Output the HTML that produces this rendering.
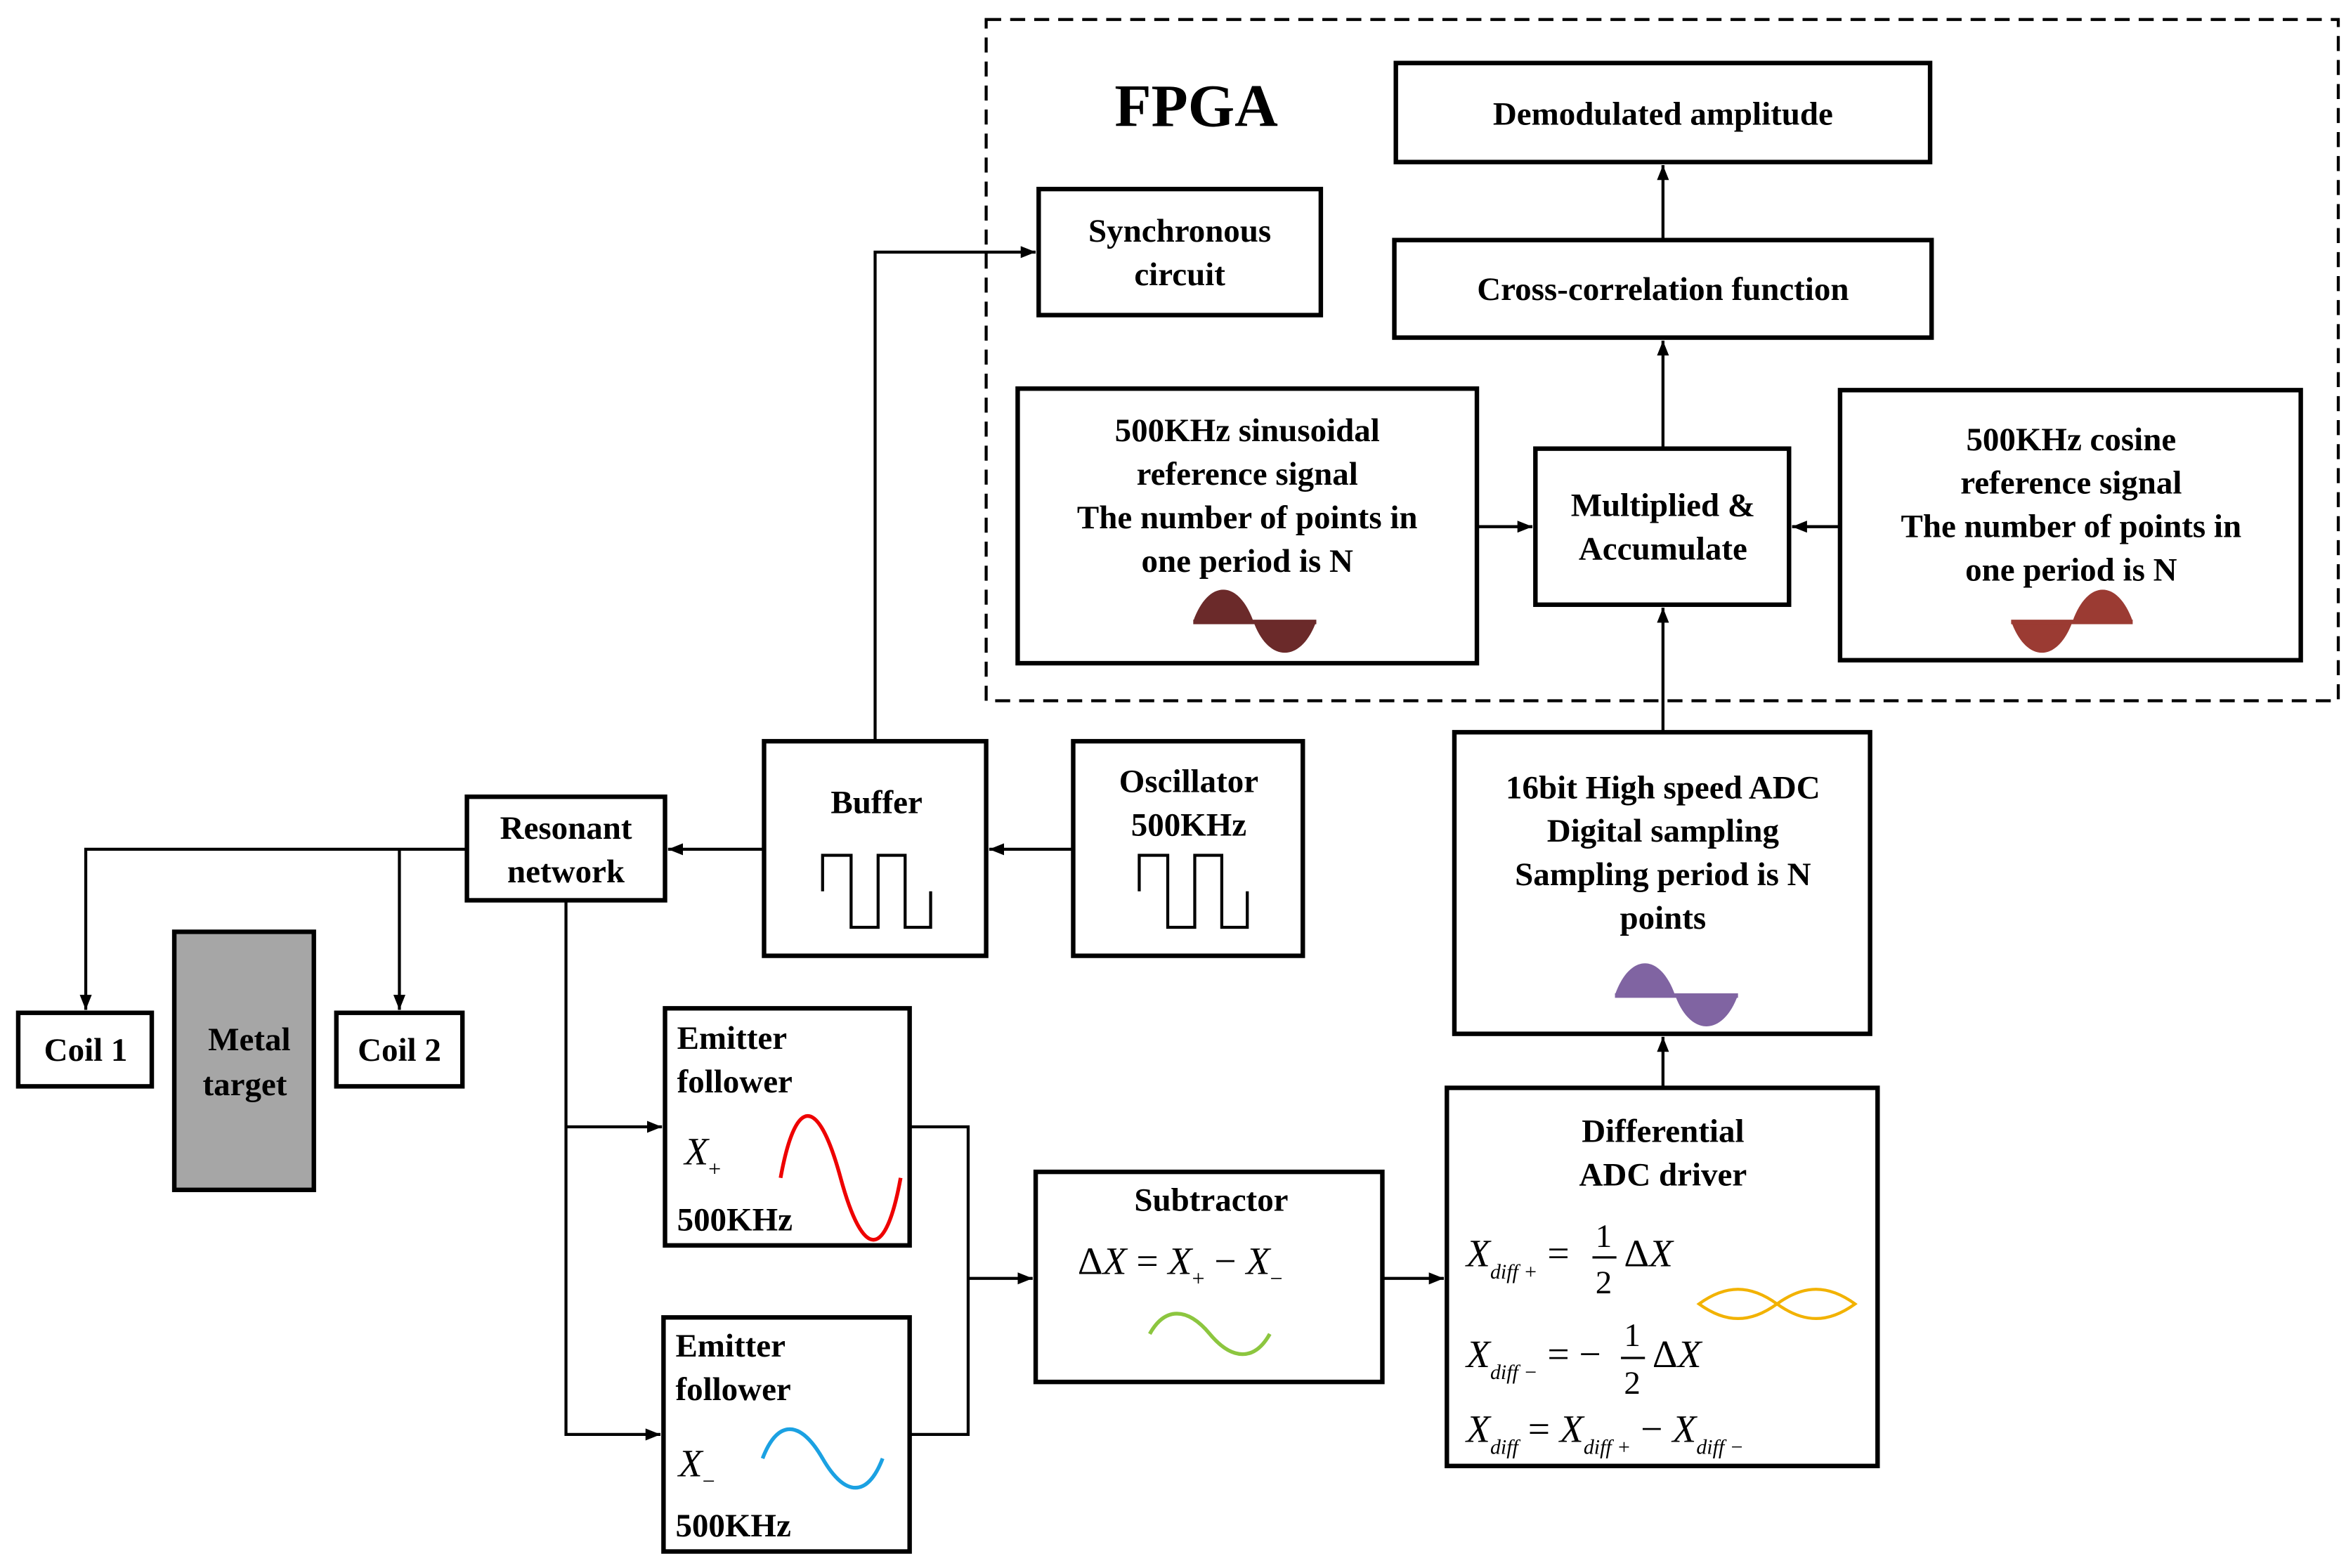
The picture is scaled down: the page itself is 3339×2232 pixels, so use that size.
<!DOCTYPE html>
<html><head><meta charset="utf-8"><style>html,body{margin:0;padding:0;background:#fff}svg{display:block}</style></head>
<body>
<svg width="3339" height="2232" viewBox="0 0 1563 1045" xmlns="http://www.w3.org/2000/svg" font-family="'Liberation Serif',serif" font-weight="bold" font-size="22">
<defs><marker id="a" markerWidth="10" markerHeight="8" refX="10" refY="4" orient="auto" markerUnits="userSpaceOnUse"><path d="M0,0 L10,4 L0,8 z" fill="#000"/></marker></defs>
<rect x="657" y="13" width="901" height="454" fill="none" stroke="#000" stroke-width="2" stroke-dasharray="10,6"/>
<text x="797" y="84" font-size="40" text-anchor="middle">FPGA</text>
<g fill="#fff" stroke="#000" stroke-width="3">
<rect x="930" y="42" width="356" height="66"/>
<rect x="929" y="160" width="358" height="65"/>
<rect x="692" y="126" width="188" height="84"/>
<rect x="678" y="259" width="306" height="183"/>
<rect x="1023" y="299" width="169" height="104"/>
<rect x="1226" y="260" width="307" height="180"/>
<rect x="969" y="488" width="277" height="201"/>
<rect x="509" y="494" width="148" height="143"/>
<rect x="715" y="494" width="153" height="143"/>
<rect x="311" y="531" width="132" height="69"/>
<rect x="12" y="675" width="89" height="49"/>
<rect x="116" y="621" width="93" height="172" fill="#a6a6a6"/>
<rect x="224" y="675" width="84" height="49"/>
<rect x="443" y="672" width="163" height="158"/>
<rect x="442" y="878" width="164" height="156"/>
<rect x="690" y="781" width="231" height="140"/>
<rect x="964" y="725" width="287" height="252"/>
</g>
<g fill="none" stroke="#000" stroke-width="2">
<path d="M583,494 V168 H690" marker-end="url(#a)"/>
<path d="M715,566 H659" marker-end="url(#a)"/>
<path d="M509,566 H445" marker-end="url(#a)"/>
<path d="M311,566 H57 V673" marker-end="url(#a)"/>
<path d="M266,566 V673" marker-end="url(#a)"/>
<path d="M377,600 V956 H440" marker-end="url(#a)"/>
<path d="M377,751 H441" marker-end="url(#a)"/>
<path d="M606,751 H645 V956 H606"/>
<path d="M645,852 H688" marker-end="url(#a)"/>
<path d="M921,852 H962" marker-end="url(#a)"/>
<path d="M1108,725 V691" marker-end="url(#a)"/>
<path d="M1108,488 V405" marker-end="url(#a)"/>
<path d="M1108,299 V227" marker-end="url(#a)"/>
<path d="M1108,160 V110" marker-end="url(#a)"/>
<path d="M984,351 H1021" marker-end="url(#a)"/>
<path d="M1226,351 H1194" marker-end="url(#a)"/>
<path d="M548,594 V570 H567 V618 H585 V570 H603 V618 H620 V594"/>
<path d="M759,594 V570 H778 V618 H796 V570 H814 V618 H831 V594"/>
<path d="M520,785 C530,730 545,730 560,785 S590,840 600,785" stroke="#e00" stroke-width="2.5"/>
<path d="M508,972 C518,946 533,946 548,972 S578,998 588,972" stroke="#1ba1e2" stroke-width="2.5"/>
<path d="M766,889 C776,871 791,871 806,889 S836,907 846,889" stroke="#8cc63f" stroke-width="2.5"/>
<path d="M1132,869 C1150,856 1166,856 1184,869 C1202,856 1218,856 1236,869 C1218,882 1202,882 1184,869 C1166,882 1150,882 1132,869 z" stroke="#f2b200" stroke-width="2"/>
</g>
<path d="M795,414 C805,386 825,386 835,414 C845,442 867,442 877,414 z" fill="#6b2a2a"/>
<rect x="795" y="413" width="82" height="3" fill="#6b2a2a"/>
<path d="M1340,414 C1350,442 1371,442 1381,414 C1391,386 1411,386 1421,414 z" fill="#9b3b33"/>
<rect x="1340" y="413" width="81" height="3" fill="#9b3b33"/>
<path d="M1076,663 C1086,635 1106,635 1116,663 C1126,691 1148,691 1158,663 z" fill="#8064a2"/>
<rect x="1076" y="662" width="82" height="3" fill="#8064a2"/>
<g text-anchor="middle">
<text x="1108" y="83">Demodulated amplitude</text>
<text x="1108" y="200">Cross-correlation function</text>
<text x="786" y="161">Synchronous</text><text x="786" y="190">circuit</text>
<text x="831" y="294">500KHz sinusoidal</text><text x="831" y="323">reference signal</text><text x="831" y="352">The number of points in</text><text x="831" y="381">one period is N</text>
<text x="1108" y="344">Multiplied &amp;</text><text x="1108" y="373">Accumulate</text>
<text x="1380" y="300">500KHz cosine</text><text x="1380" y="329">reference signal</text><text x="1380" y="358">The number of points in</text><text x="1380" y="387">one period is N</text>
<text x="1108" y="532">16bit High speed ADC</text><text x="1108" y="561">Digital sampling</text><text x="1108" y="590">Sampling period is N</text><text x="1108" y="619">points</text>
<text x="584" y="542">Buffer</text>
<text x="792" y="528">Oscillator</text><text x="792" y="557">500KHz</text>
<text x="377" y="559">Resonant</text><text x="377" y="588">network</text>
<text x="57" y="707">Coil 1</text>
<text x="166" y="700">Metal</text><text x="163" y="730">target</text>
<text x="266" y="707">Coil 2</text>
<text x="807" y="807">Subtractor</text>
<text x="1108" y="761">Differential</text><text x="1108" y="790">ADC driver</text>
</g>
<text x="451" y="699">Emitter</text><text x="451" y="728">follower</text><text x="451" y="820">500KHz</text>
<text x="450" y="904">Emitter</text><text x="450" y="933">follower</text><text x="450" y="1024">500KHz</text>
<g font-weight="normal" font-style="italic" font-size="26">
<text x="456" y="776">X<tspan font-size="15" font-style="normal" dy="8">+</tspan></text>
<text x="452" y="984">X<tspan font-size="15" font-style="normal" dy="8">−</tspan></text>
<text x="718" y="849"><tspan font-style="normal">Δ</tspan>X <tspan font-style="normal">=</tspan> X<tspan font-size="15" font-style="normal" dy="8">+</tspan><tspan dy="-8" font-style="normal"> − </tspan>X<tspan font-size="15" font-style="normal" dy="8">−</tspan></text>
<text x="977" y="844">X<tspan font-size="14" dy="8">diff +</tspan><tspan dy="-8" font-style="normal"> =</tspan></text>
<text x="1063" y="831" font-style="normal" font-size="22">1</text><line x1="1061" y1="838" x2="1077" y2="838" stroke="#000" stroke-width="1.5"/><text x="1063" y="862" font-style="normal" font-size="22">2</text>
<text x="1082" y="844"><tspan font-style="normal">Δ</tspan>X</text>
<text x="977" y="911">X<tspan font-size="14" dy="8">diff −</tspan><tspan dy="-8" font-style="normal"> = −</tspan></text>
<text x="1082" y="897" font-style="normal" font-size="22">1</text><line x1="1080" y1="905" x2="1096" y2="905" stroke="#000" stroke-width="1.5"/><text x="1082" y="929" font-style="normal" font-size="22">2</text>
<text x="1101" y="911"><tspan font-style="normal">Δ</tspan>X</text>
<text x="977" y="961">X<tspan font-size="14" dy="8">diff</tspan><tspan dy="-8" font-style="normal"> = </tspan>X<tspan font-size="14" dy="8">diff +</tspan><tspan dy="-8" font-style="normal"> − </tspan>X<tspan font-size="14" dy="8">diff −</tspan></text>
</g>
</svg>
</body></html>
